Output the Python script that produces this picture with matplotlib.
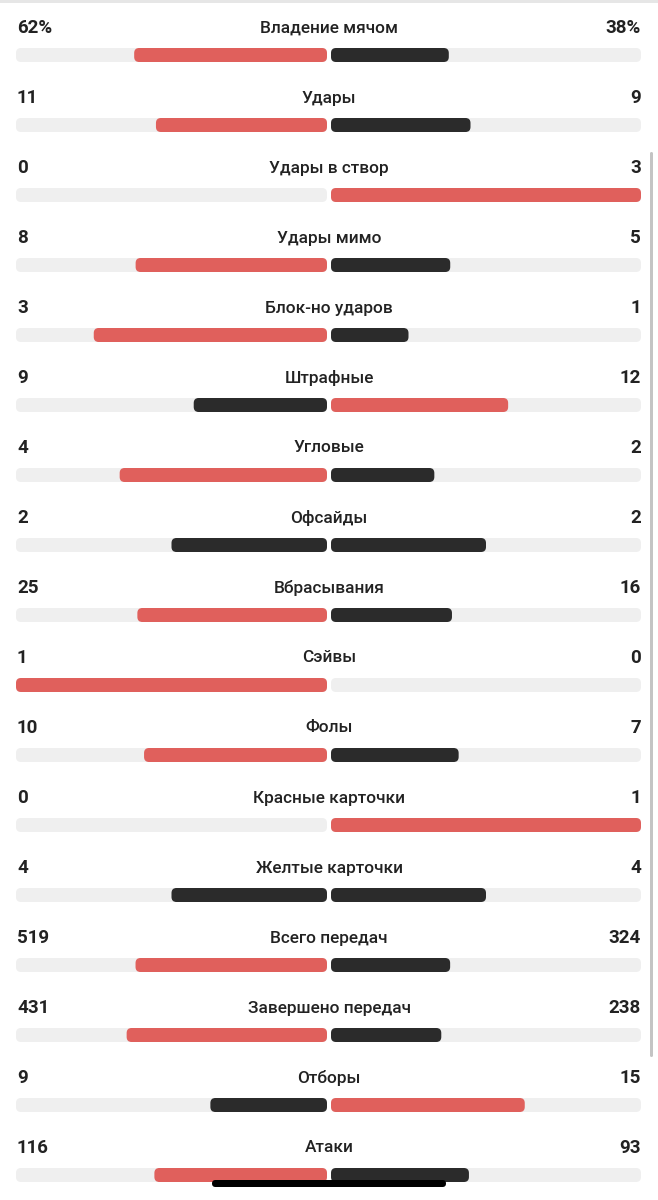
import matplotlib
matplotlib.use("Agg")
import matplotlib.pyplot as plt
from matplotlib.patches import FancyBboxPatch, Rectangle

# stats: (label, home, away)
labels = ["Владение мячом", "Удары", "Удары в створ", "Удары мимо", "Блок-но ударов",
          "Штрафные", "Угловые", "Офсайды", "Вбрасывания", "Сэйвы", "Фолы",
          "Красные карточки", "Желтые карточки", "Всего передач", "Завершено передач",
          "Отборы", "Атаки"]
home = [62, 11, 0, 8, 3, 9, 4, 2, 25, 1, 10, 0, 4, 519, 431, 9, 116]
away = [38, 9, 3, 5, 1, 12, 2, 2, 16, 0, 7, 1, 4, 324, 238, 15, 93]
home_txt = ["62%"] + [str(v) for v in home[1:]]
away_txt = ["38%"] + [str(v) for v in away[1:]]

RED = "#e0605c"
DARK = "#2b2b2b"
TRACK = "#efefef"
TEXT = "#222222"

W, H = 658, 1200
fig = plt.figure(figsize=(W / 100, H / 100), dpi=100)
ax = fig.add_axes([0, 0, 1, 1])
ax.set_xlim(0, W)
ax.set_ylim(H, 0)
ax.axis("off")
fig.patch.set_facecolor("white")

plt.rcParams['font.family'] = ['Roboto', 'DejaVu Sans']

x0, xc, x1 = 16, 329, 641
gap = 2
bh = 14
half = xc - gap - x0


def bar(x, y, w, color):
    if w <= 0:
        return
    r = min(5, w / 2)
    ax.add_patch(FancyBboxPatch((x, y - bh / 2), w, bh,
                                boxstyle="round,pad=0,rounding_size=%s" % r,
                                fc=color, ec="none", mutation_aspect=1))


for i, (lab, h, a) in enumerate(zip(labels, home, away)):
    ty = 28 + i * 70
    by = 55 + i * 70
    ax.text(x0 + 1, ty, home_txt[i], ha="left", va="center", fontsize=13.5,
            fontweight="bold", color=TEXT)
    ax.text(x1, ty, away_txt[i], ha="right", va="center", fontsize=13.5,
            fontweight="bold", color=TEXT)
    ax.text(xc, ty, lab, ha="center", va="center", fontsize=12.4,
            fontweight="medium", color=TEXT)

    # tracks
    bar(x0, by, half, TRACK)
    bar(xc + gap, by, x1 - xc - gap, TRACK)

    tot = h + a
    hc = RED if h > a else DARK
    ac = RED if a > h else DARK
    lw = half * h / tot
    rw = (x1 - xc - gap) * a / tot
    bar(xc - gap - lw, by, lw, hc)
    bar(xc + gap, by, rw, ac)

# top divider, scrollbar, home indicator
ax.add_patch(Rectangle((0, 0), W, 3, fc="#e6e6e6", ec="none"))
ax.add_patch(FancyBboxPatch((650, 152), 3, 905, boxstyle="round,pad=0,rounding_size=1.5",
                            fc="#c4c4c4", ec="none"))
ax.add_patch(FancyBboxPatch((212, 1180), 234, 7, boxstyle="round,pad=0,rounding_size=3.5",
                            fc="black", ec="none"))

fig.savefig("out.png", dpi=100, facecolor="white")
